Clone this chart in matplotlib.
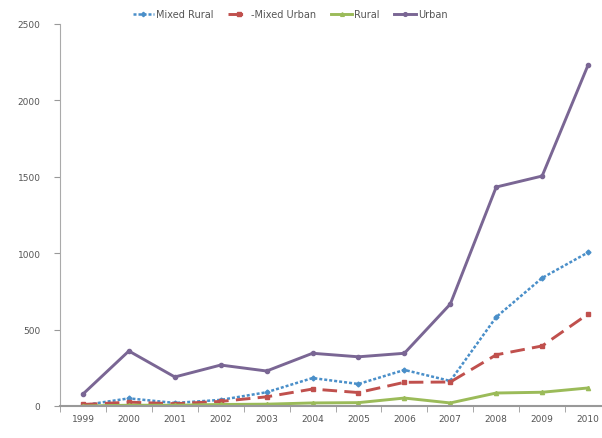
import matplotlib
matplotlib.use("Agg")
import matplotlib.pyplot as plt
import numpy as np

years = ["1999", "2000", "2001", "2002", "2003", "2004", "2005", "2006", "2007", "2008", "2009", "2010"]
mixed_rural = [5, 50, 20, 40, 90, 183, 144, 236, 164, 582, 838, 1005]
mixed_urban = [10, 25, 15, 30, 60, 111, 88, 155, 157, 335, 393, 602]
rural = [0, 5, 5, 10, 12, 20, 22, 52, 20, 85, 90, 118]
urban = [78, 360, 190, 268, 229, 345, 322, 345, 667, 1433, 1505, 2231]

W, H = 602, 439
fig = plt.figure(figsize=(W / 100, H / 100), dpi=100)
left, right, bottom, top = 60, 611, 407, 25
ax = fig.add_axes([left / W, 1 - bottom / H, (right - left) / W, (bottom - top) / H])

x = np.arange(1, len(years) + 1)
ax.plot(x, mixed_rural, color="#4a8fc9", lw=1.8, ls=(0, (1.2, 0.8)), marker="D", ms=2.5,
        label="Mixed Rural")
ax.plot(x, mixed_urban, color="#c0504d", lw=2.1, ls=(0, (5, 2.5)), marker="s", ms=3,
        label="-Mixed Urban")
ax.plot(x, rural, color="#9bbb59", lw=2.1, marker="^", ms=3, label="Rural")
ax.plot(x, urban, color="#7a6694", lw=2.1, marker="o", ms=3, label="Urban")

ax.set_xlim(0.5, len(years) + 0.5)
ax.set_ylim(0, 2500)
ax.set_yticks([0, 500, 1000, 1500, 2000, 2500])
ax.set_xticks(x)
ax.set_xticklabels(years)
ax.set_xticks(np.arange(0.5, len(years) + 1, 1), minor=True)
ax.tick_params(axis="x", which="major", length=0, labelsize=6.5, labelcolor="#555555", pad=6)
ax.tick_params(axis="x", which="minor", length=4, color="#999999", direction="out")
ax.tick_params(axis="y", length=4, color="#999999", labelsize=6.5, labelcolor="#555555", pad=10)

for s in ["top", "right"]:
    ax.spines[s].set_visible(False)
ax.spines["left"].set_color("#aaaaaa")
ax.spines["bottom"].set_color("#999999")
ax.spines["bottom"].set_linewidth(1.5)

leg = fig.legend(loc="center", bbox_to_anchor=(290 / W, 1 - 15 / H), ncol=4, frameon=False,
                 fontsize=7, handlelength=2.2, handletextpad=0.2, columnspacing=1.5,
                 markerscale=0.9)
for t in leg.get_texts():
    t.set_color("#555555")

fig.savefig("out.png", dpi=100)
